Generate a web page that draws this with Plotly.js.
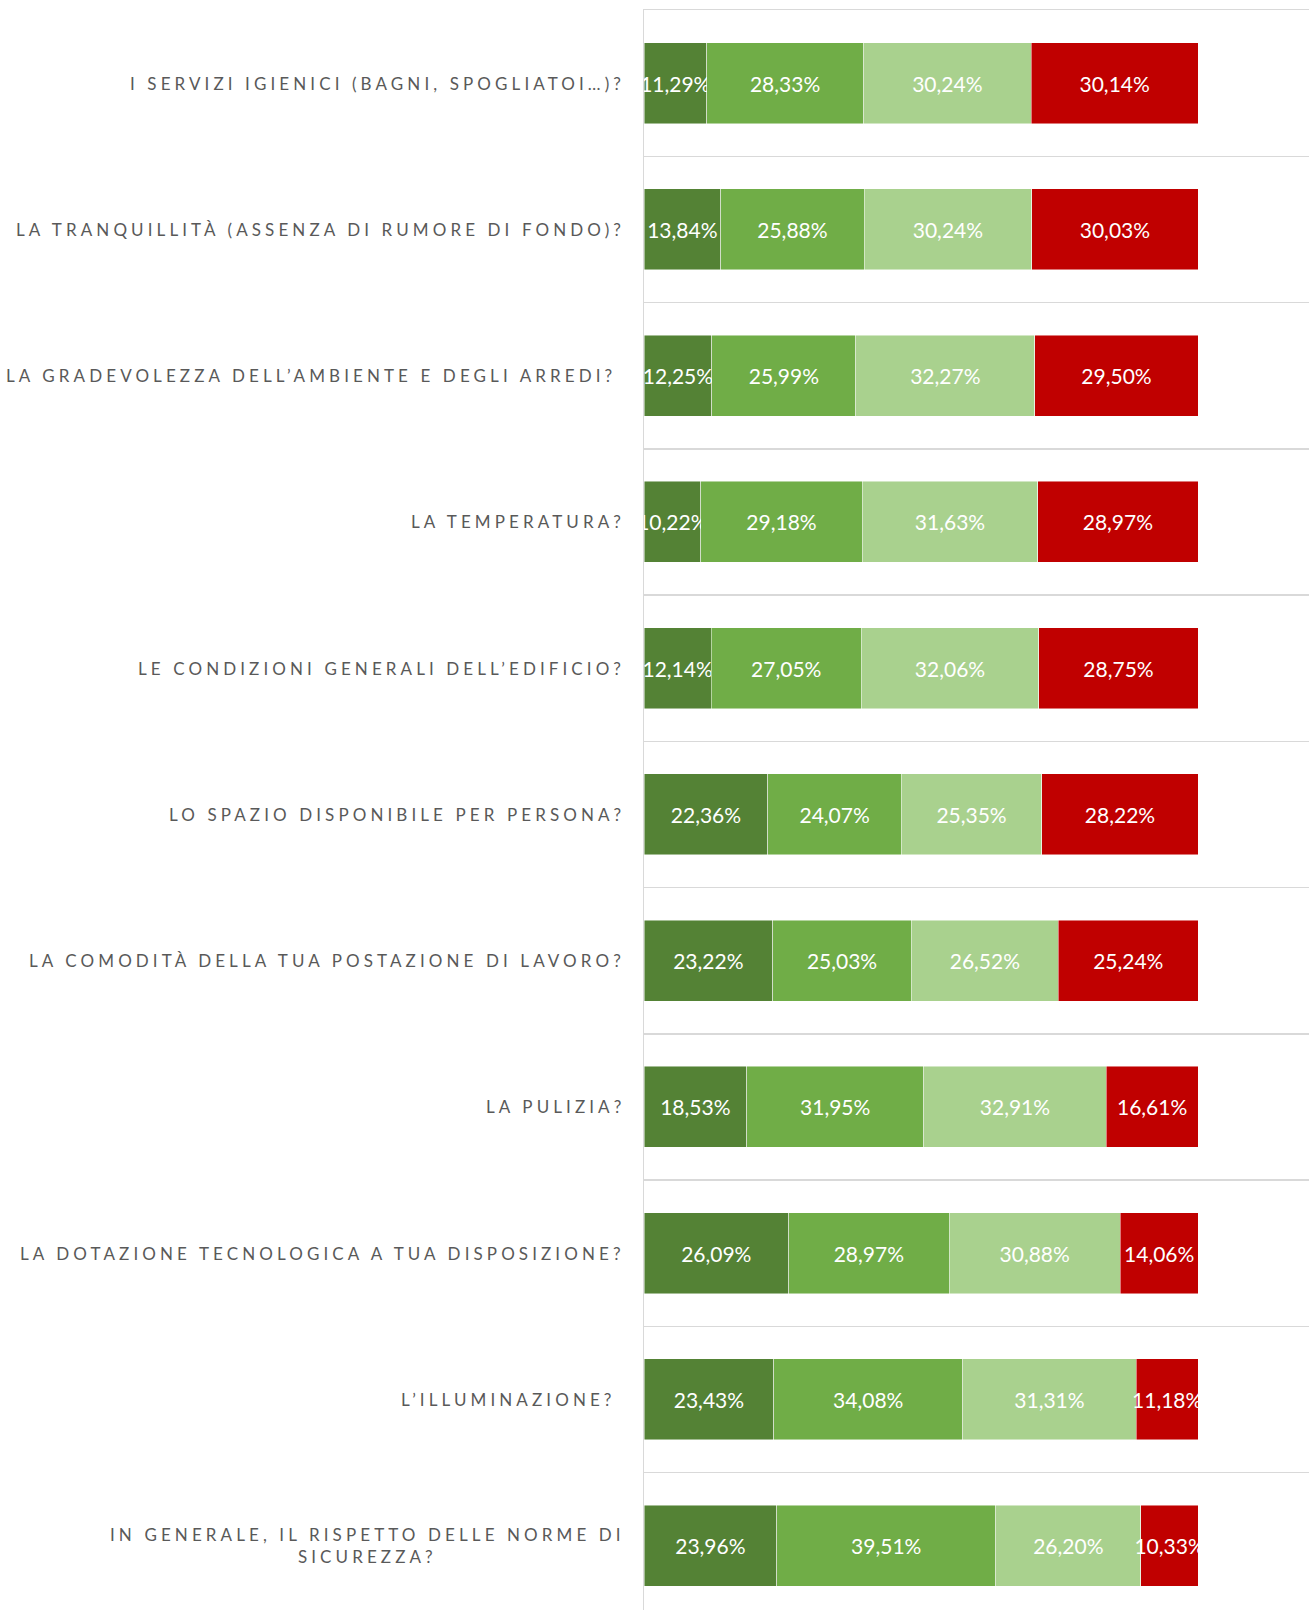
<!DOCTYPE html>
<html>
<head>
<meta charset="utf-8">
<script src="https://cdn.plot.ly/plotly-3.0.1.min.js"></script>
<style>
html, body { margin: 0; padding: 0; background: #fff; }
#chart { width: 1309px; height: 1610px; }
.annotation-text { letter-spacing: 4.1px; }
</style>
</head>
<body>
<div id="chart"></div>
<script>
const categories = [
  "I SERVIZI IGIENICI (BAGNI, SPOGLIATOI…)?",
  "LA TRANQUILLITÀ (ASSENZA DI RUMORE DI FONDO)?",
  "LA GRADEVOLEZZA DELL’AMBIENTE E DEGLI ARREDI?",
  "LA TEMPERATURA?",
  "LE CONDIZIONI GENERALI DELL’EDIFICIO?",
  "LO SPAZIO DISPONIBILE PER PERSONA?",
  "LA COMODITÀ DELLA TUA POSTAZIONE DI LAVORO?",
  "LA PULIZIA?",
  "LA DOTAZIONE TECNOLOGICA A TUA DISPOSIZIONE?",
  "L’ILLUMINAZIONE?",
  "IN GENERALE, IL RISPETTO DELLE NORME DI<br>SICUREZZA?"
];
const trailingSpace = [false, false, true, false, false, false, false, false, false, true, false];

const serie1 = [11.29, 13.84, 12.25, 10.22, 12.14, 22.36, 23.22, 18.53, 26.09, 23.43, 23.96];
const serie2 = [28.33, 25.88, 25.99, 29.18, 27.05, 24.07, 25.03, 31.95, 28.97, 34.08, 39.51];
const serie3 = [30.24, 30.24, 32.27, 31.63, 32.06, 25.35, 26.52, 32.91, 30.88, 31.31, 26.20];
const serie4 = [30.14, 30.03, 29.50, 28.97, 28.75, 28.22, 25.24, 16.61, 14.06, 11.18, 10.33];

const seriesValues = [serie1, serie2, serie3, serie4];
const seriesNames = ["Molto soddisfatto", "Soddisfatto", "Poco soddisfatto", "Per nulla soddisfatto"];
const colors = ["#548235", "#70AD47", "#A9D18E", "#C00000"];

const traces = seriesValues.map((vals, i) => ({
  type: "bar",
  orientation: "h",
  name: seriesNames[i],
  y: categories,
  x: vals,
  marker: { color: colors[i], line: { color: "rgba(255,255,255,0.6)", width: 0.8 } },
  texttemplate: "%{x:.2f}%",
  textposition: "inside",
  insidetextanchor: "middle",
  textangle: 0,
  constraintext: "none",
  textfont: { family: "Lato, 'Open Sans', sans-serif", size: 21, color: "#FFFFFF" },
  cliponaxis: false,
  hoverinfo: "skip"
}));

const annotations = categories.map((c, i) => ({
  xref: "paper",
  yref: "y",
  x: 0,
  y: c,
  xanchor: "right",
  yanchor: "middle",
  xshift: trailingSpace[i] ? -26 : -17,
  align: "center",
  showarrow: false,
  text: c,
  font: { family: "Lato, 'Open Sans', sans-serif", size: 17, color: "#595959" }
}));

const layout = {
  width: 1309,
  height: 1610,
  margin: { l: 644, r: 0, t: 10, b: 0, pad: 0 },
  barmode: "stack",
  bargap: 0.446,
  separators: ",.",
  showlegend: false,
  paper_bgcolor: "#FFFFFF",
  plot_bgcolor: "#FFFFFF",
  xaxis: {
    range: [0, 120],
    showgrid: false,
    zeroline: false,
    showticklabels: false,
    ticks: "",
    showline: true,
    side: "top",
    linecolor: "#D9D9D9",
    linewidth: 1.5,
    fixedrange: true
  },
  yaxis: {
    type: "category",
    categoryorder: "array",
    categoryarray: categories,
    range: [10.44, -0.5],
    tickson: "boundaries",
    showgrid: true,
    gridcolor: "#D9D9D9",
    gridwidth: 1.5,
    showticklabels: false,
    ticks: "",
    showline: true,
    linecolor: "#D9D9D9",
    linewidth: 1.5,
    zeroline: false,
    fixedrange: true
  },
  annotations: annotations
};

Plotly.newPlot("chart", traces, layout, { displayModeBar: false, staticPlot: true });
</script>
</body>
</html>
